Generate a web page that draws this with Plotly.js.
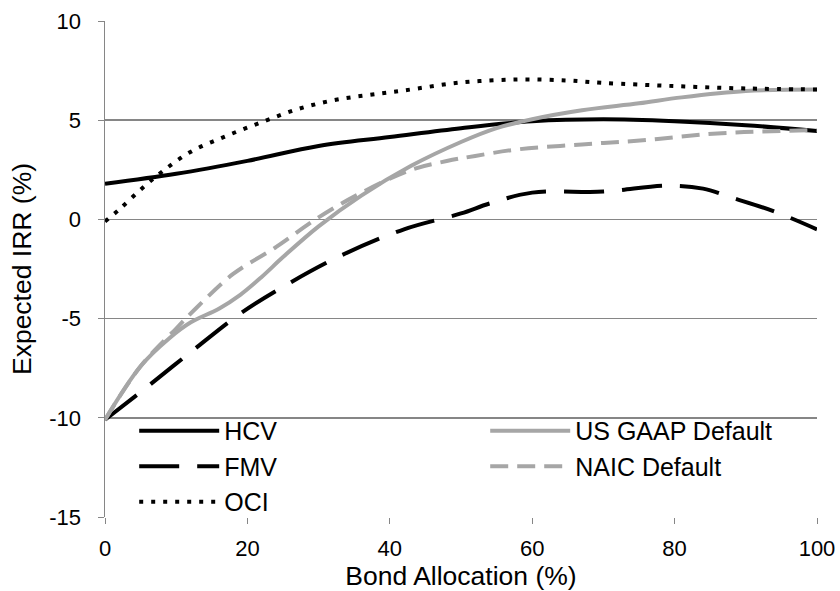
<!DOCTYPE html>
<html>
<head>
<meta charset="utf-8">
<script src="https://cdn.plot.ly/plotly-3.0.1.min.js"></script>
<style>html,body{margin:0;padding:0;background:#fff;}#chart{width:840px;height:591px;}</style>
</head>
<body>
<div id="chart"></div>
<script>
// Data
const hcvX = [0, 10, 20, 30, 40, 50, 60, 70, 80, 90, 100];
const hcvY = [1.8, 2.3, 2.95, 3.7, 4.15, 4.6, 4.95, 5.05, 4.95, 4.75, 4.45];

const fmvX = [0, 5, 12, 19, 25, 33, 42, 50, 54, 60, 70, 79, 84, 88, 94, 100];
const fmvY = [-10.1, -8.7, -6.7, -4.75, -3.4, -1.85, -0.5, 0.3, 0.8, 1.35, 1.4, 1.7, 1.55, 1.1, 0.4, -0.5];

const ociX = [0, 2, 5, 8, 12, 17, 22, 27, 32, 37, 42, 50, 58, 65, 70, 80, 90, 100];
const ociY = [-0.1, 0.5, 1.5, 2.4, 3.4, 4.2, 4.9, 5.55, 6.0, 6.27, 6.5, 6.9, 7.05, 7.0, 6.88, 6.72, 6.6, 6.55];

const gaapX = [0, 5, 9, 12, 16, 19, 22, 25, 30, 36, 43, 50, 55, 60, 67, 75, 81, 90, 100];
const gaapY = [-10.1, -7.4, -6.0, -5.2, -4.5, -3.8, -2.9, -1.9, -0.35, 1.2, 2.7, 3.9, 4.6, 5.05, 5.5, 5.85, 6.15, 6.47, 6.55];

const naicX = [0, 5, 10, 13, 18, 24, 30, 36, 43, 48, 52, 58, 67, 76, 86, 100];
const naicY = [-10.1, -7.4, -5.5, -4.4, -2.75, -1.4, 0.1, 1.34, 2.5, 2.94, 3.2, 3.53, 3.78, 4.0, 4.33, 4.5];

const xTicks = [0, 20, 40, 60, 80, 100];
const yTicks = [-15, -10, -5, 0, 5, 10];

const BLACK = '#000000';
const GRAY = '#a6a6a6';
const AXIS = '#868686';
const FONT = 'Liberation Sans, Arial, sans-serif';

const traces = [
  {name: 'HCV', x: hcvX, y: hcvY, mode: 'lines', line: {color: BLACK, width: 4, shape: 'spline'}, legend: 'legend', legendrank: 1},
  {name: 'FMV', x: fmvX, y: fmvY, mode: 'lines', line: {color: BLACK, width: 4, shape: 'spline', dash: '40px,18px'}, legend: 'legend', legendrank: 2},
  {name: 'US GAAP Default', x: gaapX, y: gaapY, mode: 'lines', line: {color: GRAY, width: 4, shape: 'spline'}, legend: 'legend2', legendrank: 1},
  {name: 'NAIC Default', x: naicX, y: naicY, mode: 'lines', line: {color: GRAY, width: 4, shape: 'spline', dash: '18px,9px'}, legend: 'legend2', legendrank: 2},
  {name: 'OCI', x: ociX, y: ociY, mode: 'lines', line: {color: BLACK, width: 4, shape: 'spline', dash: '4px,8px'}, legend: 'legend', legendrank: 3}
];

const legendCommon = {
  bgcolor: 'rgba(0,0,0,0)',
  font: {family: FONT, size: 25, color: '#000'},
  itemwidth: 80,
  yanchor: 'top',
  xanchor: 'left'
};

const layout = {
  width: 840,
  height: 591,
  margin: {l: 105, r: 23, t: 21, b: 74},
  paper_bgcolor: '#fff',
  plot_bgcolor: '#fff',
  font: {family: FONT, size: 22, color: '#000'},
  showlegend: true,
  legend: Object.assign({}, legendCommon, {x: 0.041, y: 0.22}),
  legend2: Object.assign({}, legendCommon, {x: 0.534, y: 0.22}),
  xaxis: {
    range: [0, 100],
    tickvals: xTicks,
    ticktext: xTicks.map(String),
    showgrid: false,
    zeroline: false,
    showline: false,
    ticks: 'outside',
    ticklen: 6,
    tickcolor: AXIS,
    ticklabelstandoff: 6,
    tickfont: {family: FONT, size: 22, color: '#000'},
    title: {text: 'Bond Allocation (%)', font: {family: FONT, size: 26.5, color: '#000'}, standoff: 2}
  },
  yaxis: {
    range: [-15, 10],
    tickvals: yTicks,
    ticktext: yTicks.map(String),
    showgrid: true,
    gridcolor: AXIS,
    gridwidth: 1.5,
    zeroline: false,
    showline: true,
    linecolor: AXIS,
    linewidth: 1.5,
    ticks: 'outside',
    ticklen: 6,
    tickcolor: AXIS,
    ticklabelstandoff: 12,
    tickfont: {family: FONT, size: 22, color: '#000'},
    title: {text: 'Expected IRR (%)', font: {family: FONT, size: 26.5, color: '#000'}, standoff: 10}
  }
};

Plotly.newPlot('chart', traces, layout, {staticPlot: true, displayModeBar: false});
</script>
</body>
</html>
